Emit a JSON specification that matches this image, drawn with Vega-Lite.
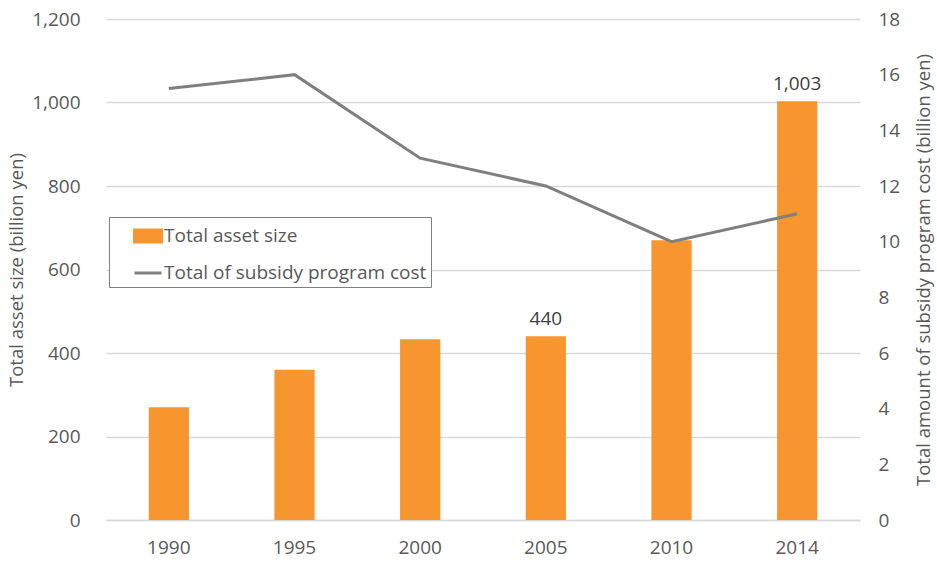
{
  "$schema": "https://vega.github.io/schema/vega-lite/v6.json",
  "width": 754,
  "height": 501,
  "autosize": {"type": "none"},
  "padding": {"left": 106, "top": 19, "right": 77, "bottom": 43},
  "background": "white",
  "config": {
    "font": "Open Sans",
    "view": {"stroke": null},
    "axis": {
      "labelFont": "Open Sans",
      "titleFont": "Open Sans",
      "labelColor": "#595959",
      "titleColor": "#595959",
      "labelFontSize": 19,
      "titleFontSize": 18.5,
      "titleFontWeight": "normal",
      "ticks": false,
      "domain": false,
      "gridColor": "#d9d9d9",
      "gridWidth": 1.5
    }
  },
  "data": {
    "values": [
      {"year": 1990, "asset": 270, "cost": 15.5},
      {"year": 1995, "asset": 360, "cost": 16},
      {"year": 2000, "asset": 433, "cost": 13},
      {"year": 2005, "asset": 440, "cost": 12},
      {"year": 2010, "asset": 670, "cost": 10},
      {"year": 2014, "asset": 1003, "cost": 11}
    ]
  },
  "encoding": {
    "x": {
      "field": "year",
      "type": "ordinal",
      "scale": {"paddingInner": 0.68, "paddingOuter": 0.34},
      "axis": {
        "title": null,
        "labelAngle": 0,
        "domain": true,
        "domainColor": "#d9d9d9",
        "domainWidth": 1.5,
        "labelPadding": 18,
        "grid": false
      }
    }
  },
  "layer": [
    {
      "encoding": {
        "y": {
          "field": "asset",
          "type": "quantitative",
          "scale": {"domain": [0, 1200]},
          "axis": {
            "title": "Total asset size (billion yen)",
            "values": [0, 200, 400, 600, 800, 1000, 1200],
            "format": ",.0f",
            "labelPadding": 26,
            "titlePadding": 5,
            "grid": true
          }
        }
      },
      "layer": [
        {
          "mark": {"type": "bar"},
          "encoding": {
            "color": {
              "datum": "Total asset size",
              "type": "nominal",
              "scale": {
                "domain": ["Total asset size", "Total of subsidy program cost"],
                "range": ["#F7962F", "#7F7F7F"]
              },
              "legend": {
                "orient": "none",
                "legendX": 3,
                "legendY": 198,
                "title": null,
                "strokeColor": "#7f7f7f",
                "fillColor": "white",
                "padding": 4,
                "symbolOffset": 20,
                "labelOffset": 1,
                "rowPadding": 10,
                "labelFont": "Open Sans",
                "labelFontSize": 19,
                "labelColor": "#595959",
                "labelLimit": 400,
                "symbolSize": 729,
                "encode": {
                  "symbols": {
                    "update": {
                      "shape": {"signal": "datum.value == 'Total asset size' ? 'M-1,-0.44H1V0.44H-1Z' : 'M-1,0H1'"},
                      "fill": {"signal": "datum.value == 'Total asset size' ? '#F7962F' : 'transparent'"},
                      "stroke": {"signal": "datum.value == 'Total asset size' ? 'transparent' : '#7F7F7F'"},
                      "strokeWidth": {"value": 3},
                      "opacity": {"value": 1}
                    }
                  }
                }
              }
            }
          }
        },
        {
          "transform": [{"filter": "datum.year == 2005 || datum.year == 2014"}],
          "mark": {"type": "text", "baseline": "bottom", "dy": -7, "fontSize": 19, "color": "#404040", "font": "Open Sans"},
          "encoding": {
            "text": {"field": "asset", "type": "quantitative", "format": ",.0f"}
          }
        }
      ]
    },
    {
      "mark": {"type": "line", "strokeWidth": 3},
      "encoding": {
        "y": {
          "field": "cost",
          "type": "quantitative",
          "scale": {"domain": [0, 18]},
          "axis": {
            "orient": "right",
            "title": "Total amount of subsidy program cost (billion yen)",
            "values": [0, 2, 4, 6, 8, 10, 12, 14, 16, 18],
            "labelPadding": 18,
            "titlePadding": 15,
            "titleAngle": -90,
            "titleBaseline": "top",
            "grid": false
          }
        },
        "color": {"datum": "Total of subsidy program cost", "type": "nominal"}
      }
    }
  ],
  "resolve": {"scale": {"y": "independent"}}
}
